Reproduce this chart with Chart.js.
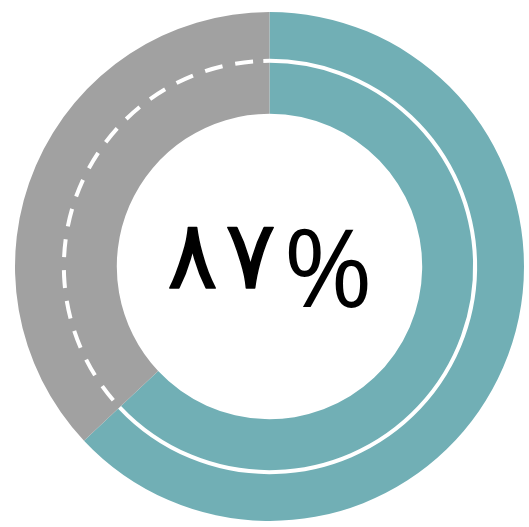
<!DOCTYPE html>
<html>
<head>
<meta charset="utf-8">
<script src="https://cdn.jsdelivr.net/npm/chart.js@4.4.0/dist/chart.umd.min.js"></script>
<style>
  html, body { margin: 0; padding: 0; background: #fff; }
  body { width: 529px; height: 527px; position: relative; overflow: hidden; }
  #wrap { position: absolute; left: 15px; top: 12px; width: 509px; height: 509px; }
</style>
</head>
<body>
<div id="wrap"><canvas id="ring"></canvas></div>
<script>
const labels = ["done", "rest"];
const values = [63, 37];
const colors = ["#71afb5", "#a1a1a1"];
const centerDigits = ["٨", "٧"];
const centerSign = "%";

// white guide line on top of the ring: solid over the first slice, dashed over the second
const guideLine = {
  id: 'guideLine',
  afterDatasetsDraw(chart) {
    const arcs = chart.getDatasetMeta(0).data;
    if (!arcs.length) return;
    const ctx = chart.ctx;
    const a0 = arcs[0], a1 = arcs[1];
    const r = a0.innerRadius + (a0.outerRadius - a0.innerRadius) * 0.52;
    ctx.save();
    ctx.strokeStyle = '#fff';
    ctx.lineWidth = 4;
    ctx.beginPath();
    ctx.arc(a0.x, a0.y, r, a0.startAngle - 0.03, a0.endAngle);
    ctx.stroke();
    ctx.setLineDash([18, 13]);
    ctx.beginPath();
    ctx.arc(a1.x, a1.y, r, a1.endAngle - 0.08, a1.startAngle, true);
    ctx.stroke();
    ctx.restore();

    // center text, digit by digit so the spacing matches
    ctx.save();
    ctx.fillStyle = '#000';
    ctx.strokeStyle = '#000';
    ctx.lineWidth = 1.5;
    ctx.lineJoin = 'round';
    ctx.textBaseline = 'alphabetic';
    ctx.textAlign = 'center';
    ctx.font = '95px "DejaVu Sans"';
    const offs = [-77, -19];
    centerDigits.forEach((d, i) => {
      ctx.fillText(d, a0.x + offs[i], a0.y + 21);
      ctx.strokeText(d, a0.x + offs[i], a0.y + 21);
    });
    ctx.textAlign = 'left';
    ctx.font = '108px "Open Sans"';
    ctx.fillText(centerSign, a0.x + 14, a0.y + 40);
    ctx.restore();
  }
};

new Chart(document.getElementById('ring'), {
  type: 'doughnut',
  data: {
    labels: labels,
    datasets: [{
      data: values,
      backgroundColor: colors,
      borderWidth: 0
    }]
  },
  options: {
    responsive: true,
    maintainAspectRatio: false,
    animation: false,
    cutout: '60%',
    plugins: {
      legend: { display: false },
      tooltip: { enabled: false }
    }
  },
  plugins: [guideLine]
});
</script>
</body>
</html>
